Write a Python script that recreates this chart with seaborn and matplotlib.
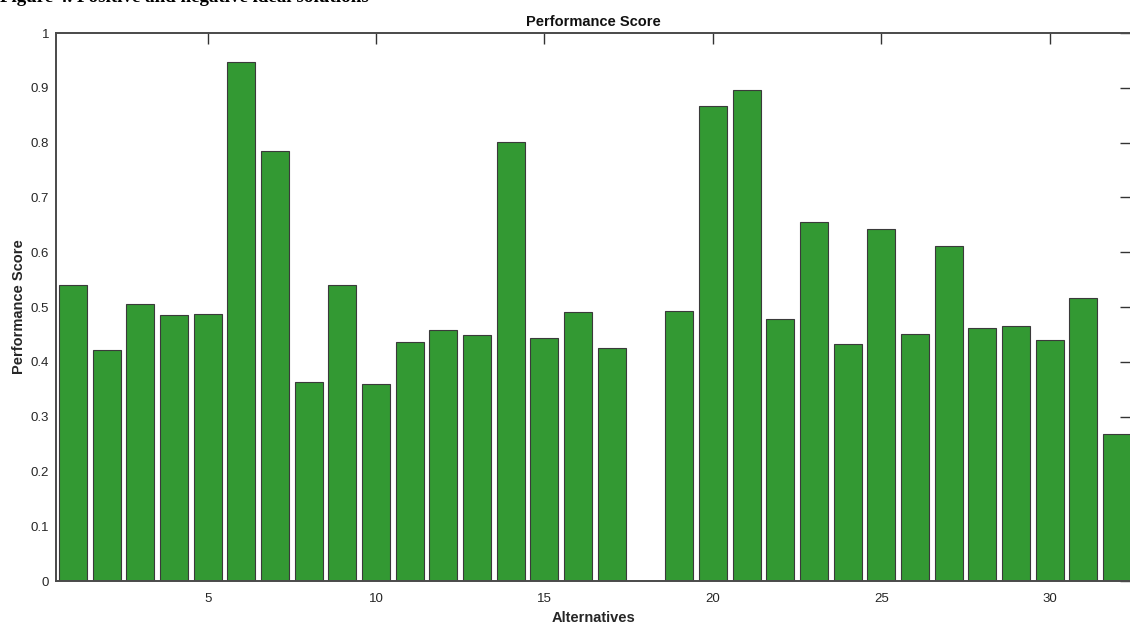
import numpy as np
import pandas as pd
import seaborn as sns
from matplotlib import pyplot as plt

alternatives = list(range(1, 33))
scores = [0.540, 0.421, 0.505, 0.485, 0.487, 0.947, 0.785, 0.363,
          0.540, 0.359, 0.436, 0.458, 0.449, 0.801, 0.443, 0.491,
          0.425, 0.0, 0.493, 0.867, 0.896, 0.478, 0.655, 0.432,
          0.642, 0.451, 0.611, 0.462, 0.465, 0.440, 0.516, 0.268]
x_ticks = [5, 10, 15, 20, 25, 30]
y_ticks = [0, 0.1, 0.2, 0.3, 0.4, 0.5, 0.6, 0.7, 0.8, 0.9, 1]
y_tick_labels = ['0', '0.1', '0.2', '0.3', '0.4', '0.5', '0.6', '0.7', '0.8', '0.9', '1']

data = pd.DataFrame({'alt': alternatives, 'score': scores})

sns.set_theme(style="white")
plt.rcParams['font.family'] = ['Liberation Sans', 'DejaVu Sans']

fig = plt.figure(figsize=(11.3, 6.25), dpi=100)
ax = fig.add_axes([0.0496, 0.0704, 0.9515, 0.8768])

sns.barplot(data=data, x='alt', y='score', native_scale=True, width=0.83,
            color='#339933', saturation=1, edgecolor='#3a3a3a', linewidth=0.8, ax=ax)

ax.set_xlim(0.5, 32.42)
ax.set_ylim(0, 1)
ax.set_xticks(x_ticks)
ax.set_xticklabels([str(t) for t in x_ticks])
ax.set_yticks(y_ticks)
ax.set_yticklabels(y_tick_labels)
ax.tick_params(direction='in', length=8, width=1, color='#333333', labelsize=9.5,
               labelcolor='#262626', top=True, right=True)
ax.tick_params(axis='x', pad=9)
ax.tick_params(axis='y', pad=5)

for s in ax.spines.values():
    s.set_color('#4a4a4a')
    s.set_linewidth(1.4)

ax.set_xlabel('Alternatives', fontsize=10.5, fontweight='bold', color='#262626', labelpad=4)
ax.set_ylabel('Performance Score', fontsize=10.5, fontweight='bold', color='#262626', labelpad=3)
ax.set_title('Performance Score', fontsize=10.5, fontweight='bold', color='#111111', pad=5)

# caption of the page, cropped at the top edge like the reference
fig.text(0.0, 1.004, 'Figure 4. Positive and negative ideal solutions', fontsize=13.7,
         fontweight='bold', family=['Liberation Serif', 'DejaVu Serif'],
         ha='left', va='center', color='black')

fig.savefig('out.png', dpi=100)
